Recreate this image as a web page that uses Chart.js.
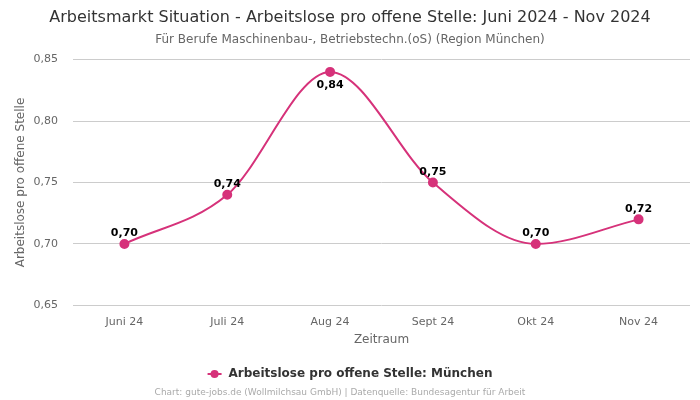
<!DOCTYPE html>
<html>
<head>
<meta charset="utf-8">
<script src="https://cdn.jsdelivr.net/npm/chart.js@4"></script>
<style>
  html, body { margin: 0; padding: 0; background: #fff; }
  #wrap { width: 700px; height: 400px; position: relative; }
</style>
</head>
<body>
<div id="wrap"><canvas id="chart" width="700" height="400"></canvas></div>
<script>
// Daten
const months = ['Juni 24', 'Juli 24', 'Aug 24', 'Sept 24', 'Okt 24', 'Nov 24'];
const ratioMuenchen = [0.70, 0.74, 0.84, 0.75, 0.70, 0.72];
const yTicks = [0.65, 0.70, 0.75, 0.80, 0.85];

const LINE_COLOR = '#d6327a';
const FONT = '"DejaVu Sans", sans-serif';
const fmt = v => v.toFixed(2).replace('.', ',');

// Werte-Beschriftung, Legende und Quellenangabe
const extras = {
  id: 'extras',
  afterDatasetsDraw(chart) {
    const ctx = chart.ctx;
    const meta = chart.getDatasetMeta(0);
    const maxVal = Math.max(...ratioMuenchen);
    ctx.save();
    ctx.font = 'bold 11px ' + FONT;
    ctx.fillStyle = '#000';
    ctx.textAlign = 'center';
    meta.data.forEach((pt, i) => {
      const v = ratioMuenchen[i];
      if (v === maxVal) {
        ctx.textBaseline = 'top';
        ctx.fillText(fmt(v), pt.x, pt.y + 8);
      } else {
        ctx.textBaseline = 'bottom';
        ctx.fillText(fmt(v), pt.x, pt.y - 5);
      }
    });
    ctx.restore();
  },
  afterDraw(chart) {
    const ctx = chart.ctx;
    const cx = chart.width / 2;
    ctx.save();
    // Legende
    const label = 'Arbeitslose pro offene Stelle: München';
    ctx.font = 'bold 12px ' + FONT;
    const tw = ctx.measureText(label).width;
    const total = 14 + 7 + tw;
    const x0 = cx - total / 2;
    const ly = 374;
    ctx.strokeStyle = LINE_COLOR;
    ctx.lineWidth = 2;
    ctx.beginPath();
    ctx.moveTo(x0, ly);
    ctx.lineTo(x0 + 14, ly);
    ctx.stroke();
    ctx.fillStyle = LINE_COLOR;
    ctx.beginPath();
    ctx.arc(x0 + 7, ly, 4, 0, Math.PI * 2);
    ctx.fill();
    ctx.fillStyle = '#333';
    ctx.textAlign = 'left';
    ctx.textBaseline = 'middle';
    ctx.fillText(label, x0 + 21, ly);
    // Quelle
    ctx.font = '9px ' + FONT;
    ctx.fillStyle = '#aaa';
    ctx.textAlign = 'center';
    ctx.fillText('Chart: gute-jobs.de (Wollmilchsau GmbH) | Datenquelle: Bundesagentur für Arbeit', cx - 10, 393);
    ctx.restore();
  }
};

new Chart(document.getElementById('chart'), {
  type: 'line',
  data: {
    labels: months,
    datasets: [{
      label: 'Arbeitslose pro offene Stelle: München',
      data: ratioMuenchen,
      borderColor: LINE_COLOR,
      backgroundColor: LINE_COLOR,
      pointBackgroundColor: LINE_COLOR,
      pointBorderColor: LINE_COLOR,
      borderWidth: 2,
      pointRadius: 4,
      cubicInterpolationMode: 'monotone',
      fill: false
    }]
  },
  options: {
    responsive: false,
    animation: false,
    layout: { padding: { left: 10, right: 10, bottom: 49 } },
    plugins: {
      legend: { display: false },
      tooltip: { enabled: false },
      title: {
        display: true,
        text: 'Arbeitsmarkt Situation - Arbeitslose pro offene Stelle: Juni 2024 - Nov 2024',
        color: '#333',
        font: { family: FONT, size: 16, weight: 'normal' },
        padding: { top: 8, bottom: 4 }
      },
      subtitle: {
        display: true,
        text: 'Für Berufe Maschinenbau-, Betriebstechn.(oS) (Region München)',
        color: '#666',
        font: { family: FONT, size: 12 },
        padding: { top: 1, bottom: 13 }
      }
    },
    scales: {
      x: {
        offset: true,
        grid: { display: false },
        border: { display: false },
        ticks: { color: '#666', font: { family: FONT, size: 11 }, padding: 2 },
        title: { display: true, text: 'Zeitraum', color: '#666', font: { family: FONT, size: 12 }, padding: { top: 2, bottom: 4 } }
      },
      y: {
        min: 0.65,
        max: 0.85,
        afterBuildTicks: axis => { axis.ticks = yTicks.map(v => ({ value: v })); },
        afterFit: axis => { axis.width = 63; },
        grid: { color: '#cccccc', drawTicks: false },
        border: { display: false },
        ticks: { color: '#666', font: { family: FONT, size: 11 }, padding: 15, callback: v => fmt(v) },
        title: { display: true, text: 'Arbeitslose pro offene Stelle', color: '#666', font: { family: FONT, size: 12 }, padding: { top: 4, bottom: 0 } }
      }
    }
  },
  plugins: [extras]
});
</script>
</body>
</html>
